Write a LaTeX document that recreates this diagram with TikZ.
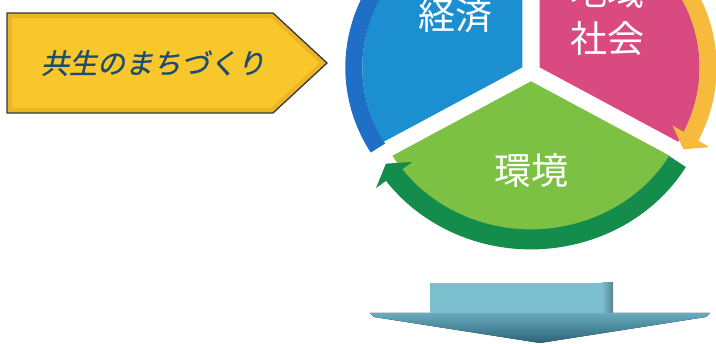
\documentclass[tikz,border=0pt]{standalone}
\usepackage{fontspec}
\newfontfamily\jpfont{Noto Sans CJK JP}
\newfontfamily\jpslant[FakeSlant=0.22, FakeBold=0.8]{Noto Sans CJK JP}
\usetikzlibrary{math,arrows.meta,bending}

\definecolor{bleuSecteur}{RGB}{27,143,208}
\definecolor{bleuBande}{RGB}{31,111,198}
\definecolor{roseSecteur}{RGB}{216,74,128}
\definecolor{jauneBande}{RGB}{246,186,60}
\definecolor{vertSecteur}{RGB}{124,192,68}
\definecolor{vertBande}{RGB}{20,140,76}
\definecolor{jauneFleche}{RGB}{248,199,44}
\definecolor{orFleche}{RGB}{222,160,20}
\definecolor{bordFleche}{RGB}{44,58,72}
\definecolor{texteFleche}{RGB}{30,76,110}
\definecolor{tigeBas}{RGB}{124,192,208}
\definecolor{teteHaut}{RGB}{104,170,190}
\definecolor{teteBas}{RGB}{44,100,120}

\begin{document}
\begin{tikzpicture}[x=1pt, y=1pt]

	\tikzmath{
		\R = 160;          % rayon des secteurs
		\d = 10;           % écart au centre
		\ys = 0.93;        % écrasement vertical
		\cx = 531; \cy = 272;
		\bx = \cx - 0.866*\d; \by = \cy + 0.5*\d*\ys;  % secteur bleu
		\px = \cx + 0.866*\d; \py = \by;               % secteur rose
		\vx = \cx;            \vy = \cy - \d*\ys;      % secteur vert
	}

	\useasboundingbox (0,0) rectangle (716,344);
	\clip (0,0) rectangle (716,344);

	% Flèche jaune à gauche
	\tikzset{pentagone/.style={line width=1.3pt, draw=bordFleche, line join=miter}}

	\fill[jauneFleche] (7,231) -- (273,231) -- (327,281) -- (273,331) -- (7,331) -- cycle;
	\begin{scope}
		\clip (7,231) -- (273,231) -- (327,281) -- (273,331) -- (7,331) -- cycle;
		\draw[orFleche, line width=10pt, opacity=.45]
		(7,231) -- (273,231) -- (327,281) -- (273,331) -- (7,331) -- cycle;
	\end{scope}
	\draw[pentagone] (7,231) -- (273,231) -- (327,281) -- (273,331) -- (7,331) -- cycle;

	\node[font=\jpslant\fontsize{28}{32}\selectfont, text=texteFleche]
	(titre) at (153,281) {共生のまちづくり};


	% Les trois secteurs et leurs bandes
	\tikzset{bande/.style={line width=17pt}}

	\begin{scope}[shift={(\bx,\by)}, yscale=\ys]
		\fill[bleuSecteur] (0,0) -- (90:\R) arc[start angle=90, end angle=210, radius=\R] -- cycle;
		\draw[bande, bleuBande, -{Triangle[length=14pt, width=44pt]}]
		(211:{\R+8.5}) arc[start angle=211, end angle=95, radius={\R+8.5}];
	\end{scope}

	\begin{scope}[shift={(\px,\py)}, yscale=\ys]
		\fill[roseSecteur] (0,0) -- (90:\R) arc[start angle=90, end angle=-30, radius=\R] -- cycle;
		\draw[bande, jauneBande, -{Triangle[length=15pt, width=42pt]}]
		(88:{\R+8.5}) arc[start angle=88, end angle=-31.5, radius={\R+8.5}];
	\end{scope}

	\begin{scope}[shift={(\vx,\vy)}, yscale=\ys]
		\fill[vertSecteur] (0,0) -- (-30:\R) arc[start angle=-30, end angle=-150, radius=\R] -- cycle;
		\draw[bande, line width=20pt, vertBande, -{Triangle[length=14pt, width=44pt]}]
		(-30.5:{\R+10}) arc[start angle=-30.5, end angle=-148.6, radius={\R+10}];
	\end{scope}

	\tikzset{secteur/.style={text=white, font=\jpfont\fontsize{37}{47}\selectfont, align=center}}

	\node[secteur] (economie)      at (455,328)   {経済};
	\node[secteur] (communaute)    at (607,329)   {地域\\社会};
	\node[secteur] (environnement) at (531.5,173.5) {環境};


	% Grosse flèche vers le bas
	\fill[top color=teteHaut, bottom color=teteBas]
	(370,31) -- (710,31) -- (706,27) -- (540,1) -- (374,27) -- cycle;
	\fill[tigeBas] (430,31) rectangle (613,61);
	\fill[left color=tigeBas, right color=teteBas!80] (602,31) rectangle (613,61);

\end{tikzpicture}
\end{document}
